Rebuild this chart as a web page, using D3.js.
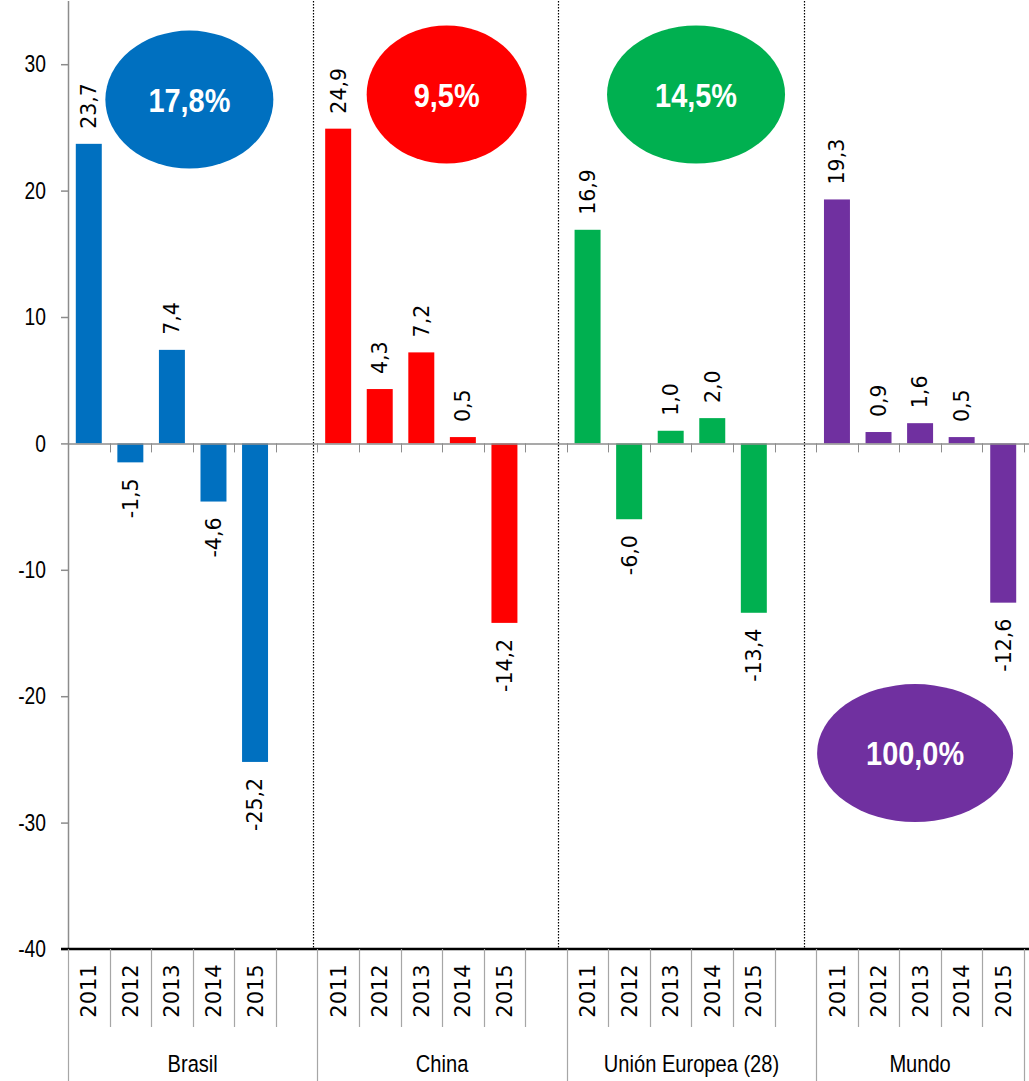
<!DOCTYPE html>
<html>
<head>
<meta charset="utf-8">
<script src="https://cdn.jsdelivr.net/npm/d3@7"></script>
<style>
  body { margin: 0; background: #ffffff; }
  svg { display: block; }
</style>
</head>
<body>
<div id="chart"></div>
<script>
// data
const groups = ['Brasil', 'China', 'Unión Europea (28)', 'Mundo']
const years = ['2011', '2012', '2013', '2014', '2015']
const brasil = [23.7, -1.5, 7.4, -4.6, -25.2]
const china = [24.9, 4.3, 7.2, 0.5, -14.2]
const ue = [16.9, -6.0, 1.0, 2.0, -13.4]
const mundo = [19.3, 0.9, 1.6, 0.5, -12.6]
const shares = ['17,8%', '9,5%', '14,5%', '100,0%']
const yTicks = [30, 20, 10, 0, -10, -20, -30, -40]
const colours = ['#0070C0', '#FF0000', '#00B050', '#7030A0']

const seriesValues = [brasil, china, ue, mundo]

const width = 1029
const height = 1081
// no Calibri here: Liberation Sans squeezed horizontally gets close enough
const sans = "'Liberation Sans', Arial, sans-serif"
const squeeze = 0.82
const dejavu = "'DejaVu Sans', sans-serif"

// every group gets an empty slot at the end, except the last one
const slots = []
groups.forEach((g, gi) => {
  years.forEach((yr, i) => slots.push({ id: g + '|' + yr, group: g, gi: gi, year: yr, value: seriesValues[gi][i] }))
  if (gi < groups.length - 1) slots.push({ id: g + '|blank', group: g, gi: gi, year: null, value: null })
})

const loc = d3.formatLocale({ decimal: ',', thousands: '.', grouping: [3], currency: ['', ''], minus: '-' })
const fmt = loc.format('.1f')
const fmtTick = loc.format('d')

const x = d3.scaleBand()
  .domain(slots.map(d => d.id))
  .range([68, 1024])
  .padding(0)

const y = d3.scaleLinear()
  .domain([-40, 35])
  .range([949, 1])

const svg = d3.select('#chart')
  .append('svg')
  .attr('width', width)
  .attr('height', height)

// dotted group separators (drawn by hand in the original, a bit left of the boundaries)
const sepOffsets = [4, 9, 12]
groups.slice(1).forEach((g, i) => {
  const first = slots.find(d => d.group === g)
  const sx = Math.round(x(first.id) - sepOffsets[i]) + 0.5
  svg.append('line')
    .attr('x1', sx).attr('x2', sx)
    .attr('y1', y(35)).attr('y2', y(-40))
    .style('stroke', '#000')
    .style('stroke-width', 1.2)
    .style('stroke-dasharray', '1.5,1.5')
})

// bars
const barW = x.bandwidth() * 0.625
const dataSlots = slots.filter(d => d.year !== null)

svg.selectAll('rect.bar')
  .data(dataSlots)
  .enter()
  .append('rect')
  .attr('class', 'bar')
  .attr('x', d => x(d.id) + (x.bandwidth() - barW) / 2)
  .attr('y', d => y(Math.max(0, d.value)))
  .attr('width', barW)
  .attr('height', d => Math.abs(y(d.value) - y(0)))
  .style('fill', d => colours[d.gi])

// zero line with small ticks at slot boundaries
svg.append('line')
  .attr('x1', 68).attr('x2', width)
  .attr('y1', y(0) + 0.5).attr('y2', y(0) + 0.5)
  .style('stroke', '#8c8c8c')
  .style('stroke-width', 1.5)

slots.forEach(d => {
  const bx = Math.round(x(d.id) + x.bandwidth()) + 0.5
  svg.append('line')
    .attr('x1', bx).attr('x2', bx)
    .attr('y1', y(0)).attr('y2', y(0) + 9)
    .style('stroke', '#8c8c8c')
    .style('stroke-width', 1)
})

// y axis
svg.append('line')
  .attr('x1', 68.5).attr('x2', 68.5)
  .attr('y1', y(35)).attr('y2', y(-40))
  .style('stroke', '#8c8c8c')
  .style('stroke-width', 1.5)

svg.selectAll('line.ytick')
  .data(yTicks)
  .enter()
  .append('line')
  .attr('class', 'ytick')
  .attr('x1', 61).attr('x2', 68)
  .attr('y1', d => y(d) + 0.5).attr('y2', d => y(d) + 0.5)
  .style('stroke', '#8c8c8c')
  .style('stroke-width', 1.5)

svg.selectAll('text.ylab')
  .data(yTicks)
  .enter()
  .append('text')
  .attr('class', 'ylab')
  .attr('transform', d => `translate(46,${y(d)}) scale(${squeeze},1)`)
  .attr('dy', '0.35em')
  .attr('text-anchor', 'end')
  .style('font-family', sans)
  .style('font-size', '23.5px')
  .style('fill', '#000')
  .text(d => fmtTick(d))

// bottom axis at -40
svg.append('line')
  .attr('x1', 61).attr('x2', width)
  .attr('y1', y(-40)).attr('y2', y(-40))
  .style('stroke', '#000')
  .style('stroke-width', 2.5)

// year separators (short) and group separators (long)
slots.forEach((d, i) => {
  const bx = Math.round(x(d.id) + x.bandwidth()) + 0.5
  const last = i === slots.length - 1 || slots[i + 1].group !== d.group
  svg.append('line')
    .attr('x1', bx).attr('x2', bx)
    .attr('y1', y(-40)).attr('y2', last ? height : 1027)
    .style('stroke', '#a6a6a6')
    .style('stroke-width', 1.2)
})
svg.append('line')
  .attr('x1', 68.5).attr('x2', 68.5)
  .attr('y1', y(-40)).attr('y2', height)
  .style('stroke', '#a6a6a6')
  .style('stroke-width', 1.2)

// year labels
svg.selectAll('text.year')
  .data(dataSlots)
  .enter()
  .append('text')
  .attr('class', 'year')
  .attr('transform', d => `translate(${x(d.id) + x.bandwidth() / 2},991) rotate(-90)`)
  .attr('dy', '0.36em')
  .attr('text-anchor', 'middle')
  .style('font-family', dejavu)
  .style('font-size', '21px')
  .style('fill', '#000')
  .text(d => d.year)

// group labels
groups.forEach(g => {
  const gs = slots.filter(d => d.group === g)
  const x0 = x(gs[0].id)
  const x1 = x(gs[gs.length - 1].id) + x.bandwidth()
  svg.append('text')
    .attr('transform', `translate(${(x0 + x1) / 2},1072) scale(${squeeze},1)`)
    .attr('text-anchor', 'middle')
    .style('font-family', sans)
    .style('font-size', '24.5px')
    .style('fill', '#000')
    .text(g)
})

// value labels
svg.selectAll('text.val')
  .data(dataSlots)
  .enter()
  .append('text')
  .attr('class', 'val')
  .attr('transform', d => {
    const cx = x(d.id) + x.bandwidth() / 2
    const cy = d.value >= 0 ? y(d.value) - 15 : y(d.value) + 16
    return `translate(${cx},${cy}) rotate(-90)`
  })
  .attr('dy', '0.36em')
  .attr('text-anchor', d => d.value >= 0 ? 'start' : 'end')
  .style('font-family', dejavu)
  .style('font-size', '20.5px')
  .style('fill', '#000')
  .text(d => fmt(d.value))

// share ellipses: slot offset within group and y value of the centre
const ellSlot = [2.92, 3.11, 3.11, 2.38]
const ellValue = [27.2, 27.6, 27.6, -24.5]
const ellRx = [84, 80, 89, 98]

groups.forEach((g, gi) => {
  const first = slots.find(d => d.group === g)
  const cx = x(first.id) + ellSlot[gi] * x.bandwidth()
  const cy = y(ellValue[gi])
  svg.append('ellipse')
    .attr('cx', cx).attr('cy', cy)
    .attr('rx', ellRx[gi]).attr('ry', 69)
    .style('fill', colours[gi])
  svg.append('text')
    .attr('transform', `translate(${cx},${cy}) scale(0.85,1)`)
    .attr('dy', '0.36em')
    .attr('text-anchor', 'middle')
    .style('font-family', sans)
    .style('font-weight', 'bold')
    .style('font-size', '34px')
    .style('fill', '#fff')
    .text(shares[gi])
})
</script>
</body>
</html>
